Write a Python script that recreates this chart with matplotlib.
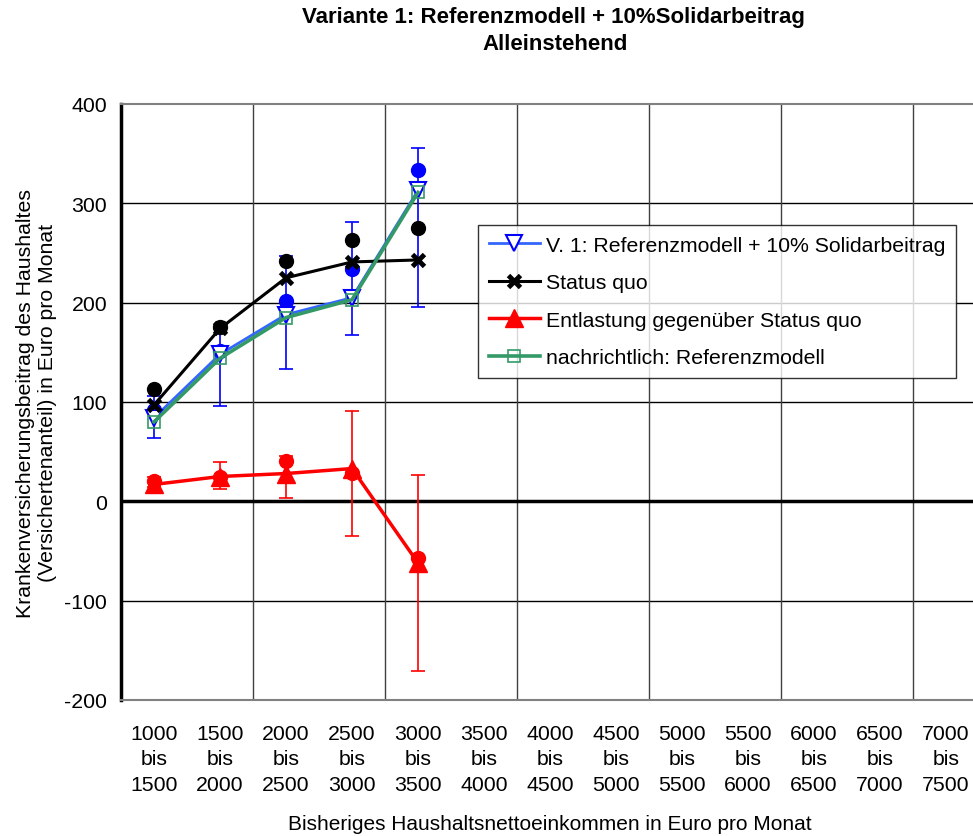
import matplotlib.pyplot as plt
import numpy as np

plt.rcParams["font.family"] = ["Liberation Sans", "DejaVu Sans"]
plt.rcParams["axes.unicode_minus"] = False

income_bands = [
    "1000\nbis\n1500", "1500\nbis\n2000", "2000\nbis\n2500", "2500\nbis\n3000",
    "3000\nbis\n3500", "3500\nbis\n4000", "4000\nbis\n4500", "4500\nbis\n5000",
    "5000\nbis\n5500", "5500\nbis\n6000", "6000\nbis\n6500", "6500\nbis\n7000",
    "7000\nbis\n7500",
]

# Werte nur fuer die ersten fuenf Einkommensklassen vorhanden
variante1 = [84, 148, 188, 205, 313]
variante1_low = [64, 96, 133, 167, 196]
variante1_high = [106, 175, 247, 281, 356]
variante1_punkte = [92, 151, 202, 234, 334]

status_quo = [97, 174, 225, 241, 243]
status_quo_punkte = [113, 176, 242, 263, 275]

entlastung = [17, 25, 28, 33, -62]
entlastung_low = [14, 12, 3, -35, -171]
entlastung_high = [24, 40, 46, 91, 27]
entlastung_punkte = [20, 24, 41, 29, -57]

referenzmodell = [80, 144, 185, 203, 311]

y_ticks = [-200, -100, 0, 100, 200, 300, 400]

FS = 15.3


def main():
    fig = plt.figure(figsize=(9.73, 8.37), dpi=100)
    ax = fig.add_axes([121 / 973, 1 - 701 / 837, 858 / 973, 596 / 837])

    x_all = np.arange(len(income_bands))
    x = np.arange(len(variante1))

    v1 = np.array(variante1)
    ent = np.array(entlastung)

    # Fehlerbalken
    ax.errorbar(x, v1, yerr=[v1 - np.array(variante1_low), np.array(variante1_high) - v1],
                fmt="none", ecolor="#0000ff", elinewidth=1.2, capsize=5, capthick=1.2, zorder=3)
    ax.errorbar(x, ent, yerr=[ent - np.array(entlastung_low), np.array(entlastung_high) - ent],
                fmt="none", ecolor="#ff0000", elinewidth=1.2, capsize=5, capthick=1.2, zorder=3)

    # Einzelpunkte ohne Legende
    ax.plot(x, status_quo_punkte, "o", color="black", markersize=10, zorder=4)
    ax.plot(x, variante1_punkte, "o", color="#0000ff", markersize=10, zorder=4)
    ax.plot(x, entlastung_punkte, "o", color="#ff0000", markersize=10, zorder=4)

    (l_v1,) = ax.plot(x, variante1, color="#3366ff", linewidth=2.0, marker="v", markersize=11,
                      markerfacecolor="white", markeredgecolor="#0000ff", markeredgewidth=1.5,
                      zorder=5, label="V. 1: Referenzmodell + 10% Solidarbeitrag")
    (l_sq,) = ax.plot(x, status_quo, color="black", linewidth=2.2, marker="x", markersize=9,
                      markeredgewidth=3.5, zorder=6, label="Status quo")
    (l_ent,) = ax.plot(x, entlastung, color="#ff0000", linewidth=2.5, marker="^", markersize=13,
                       zorder=6, label="Entlastung gegenüber Status quo")
    (l_ref,) = ax.plot(x, referenzmodell, color="#339966", linewidth=2.6, marker="s", markersize=9,
                       markerfacecolor="none", markeredgecolor="#339966", markeredgewidth=1.2,
                       zorder=6, label="nachrichtlich: Referenzmodell")

    ax.set_xlim(-0.5, len(income_bands) - 0.5)
    ax.set_ylim(-200, 400)
    ax.set_yticks(y_ticks)
    ax.set_xticks(x_all)
    ax.set_xticklabels(income_bands, linespacing=1.45)
    ax.tick_params(axis="both", length=0, labelsize=FS)
    ax.tick_params(axis="y", pad=10)
    ax.tick_params(axis="x", pad=17)

    # Gitter
    for yv in [-100, 100, 200, 300]:
        ax.axhline(yv, color="black", linewidth=1.0, zorder=1)
    ax.axhline(0, color="black", linewidth=2.5, zorder=2)
    for xv in np.arange(1.5, len(income_bands), 2):
        ax.axvline(xv, color="#404040", linewidth=1.0, zorder=1)

    ax.spines["left"].set_linewidth(2.5)
    ax.spines["left"].set_color("black")
    for side in ("top", "bottom", "right"):
        ax.spines[side].set_color("#808080")
        ax.spines[side].set_linewidth(1.5)

    ax.set_ylabel("Krankenversicherungsbeitrag des Haushaltes\n(Versichertenanteil) in Euro pro Monat",
                  fontsize=FS, labelpad=5)
    ax.set_xlabel("Bisheriges Haushaltsnettoeinkommen in Euro pro Monat", fontsize=15, labelpad=14)

    fig.text(553 / 973, 1 - 18 / 837, "Variante 1: Referenzmodell + 10%Solidarbeitrag",
             ha="center", va="center", fontsize=16, fontweight="bold")
    fig.text(555 / 973, 1 - 44 / 837, "Alleinstehend",
             ha="center", va="center", fontsize=16, fontweight="bold")

    leg = ax.legend(handles=[l_v1, l_sq, l_ent, l_ref], loc="upper left",
                    bbox_to_anchor=(478 / 973, 1 - 226 / 837), bbox_transform=fig.transFigure,
                    fontsize=FS, frameon=True, fancybox=False, borderaxespad=0,
                    handlelength=2.4, handletextpad=0.3, labelspacing=0.87, borderpad=0.5)
    leg.get_frame().set_edgecolor("black")
    leg.get_frame().set_linewidth(1.0)
    leg.set_zorder(10)

    fig.savefig("out.png", dpi=100)
    plt.close(fig)


if __name__ == "__main__":
    main()
